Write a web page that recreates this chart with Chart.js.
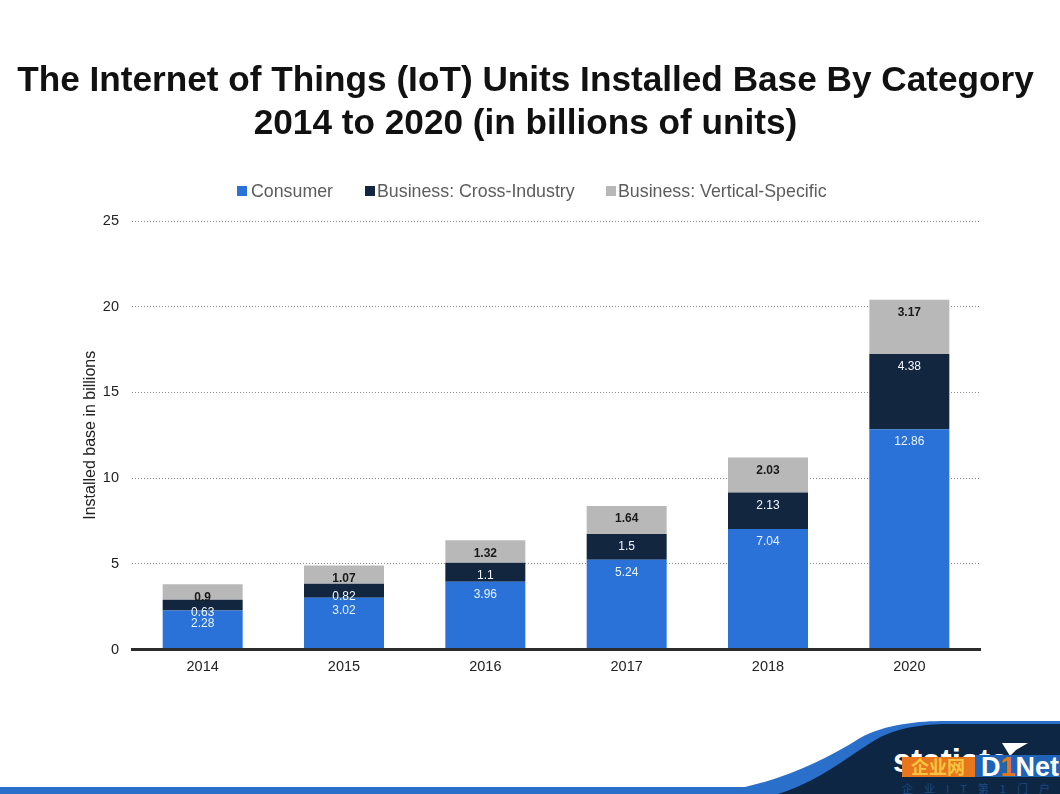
<!DOCTYPE html>
<html>
<head>
<meta charset="utf-8">
<title>IoT Units Installed Base</title>
<script src="https://cdn.jsdelivr.net/npm/chart.js@4/dist/chart.umd.min.js"></script>
<style>
    html, body { margin: 0; padding: 0; background: #fff; }
    #wrap { position: relative; width: 1060px; height: 794px; overflow: hidden; font-family: "Liberation Sans", sans-serif; }
    #corner, canvas { position: absolute; left: 0; top: 0; }
    #heading { position: absolute; left: 0; top: 57px; width: 1051px; margin: 0; text-align: center; font-size: 35.2px; line-height: 43px; font-weight: bold; color: #111; white-space: nowrap; }
    .key { position: absolute; top: 180px; font-size: 17.8px; line-height: 22px; color: #5c5c5c; white-space: nowrap; }
    .key i { position: absolute; top: 6px; width: 10px; height: 10px; }
</style>
</head>
<body>
<div id="wrap">
    <svg id="corner" width="1060" height="794" font-family="Liberation Sans">
        <rect x="0" y="787" width="810" height="7" fill="#2a6fc9"/>
        <path d="M745 794 L745 787 C 790 777, 830 757, 860 738 C 885 724, 920 721, 945 721 L1060 721 L1060 794 Z" fill="#2a6fc9"/>
        <path d="M778 794 C 825 780, 860 746, 885 735 C 905 726, 930 724, 950 724 L1060 724 L1060 794 Z" fill="#0d2644"/>
        <text x="893" y="772" font-size="33" font-weight="bold" fill="#fff">statista</text>
        <path d="M1002 743 L1028 743 L1016 750 L1010 756 Z" fill="#fff"/>
        <rect x="902" y="757" width="73" height="20" fill="#e8761c"/>
        <text x="938" y="774" font-size="18" font-weight="bold" fill="#f5c542" text-anchor="middle" font-family="Noto Sans CJK SC">企业网</text>
        <rect x="975" y="755" width="85" height="22" fill="#1f63b8"/>
        <text x="981" y="776" font-size="27" font-weight="bold" fill="#fff">D<tspan fill="#e8761c">1</tspan>Net</text>
        <text x="902" y="793" font-size="11" fill="#1c4a80" letter-spacing="11" font-family="Noto Sans CJK SC">企业IT第1门户</text>
    </svg>
    <canvas id="iotChart" width="1060" height="794"></canvas>
    <h1 id="heading">The Internet of Things (IoT) Units Installed Base By Category<br>2014 to 2020 (in billions of units)</h1>
    <div class="key" style="left:251px"><i style="left:-14px;background:#2a72d8"></i>Consumer</div>
    <div class="key" style="left:377px"><i style="left:-12px;background:#12263f"></i>Business: Cross-Industry</div>
    <div class="key" style="left:618px"><i style="left:-12px;background:#b8b8b8"></i>Business: Vertical-Specific</div>
</div>
<script>
const years = ['2014', '2015', '2016', '2017', '2018', '2020'];
const consumer = [2.28, 3.02, 3.96, 5.24, 7.04, 12.86];
const crossIndustry = [0.63, 0.82, 1.1, 1.5, 2.13, 4.38];
const verticalSpecific = [0.9, 1.07, 1.32, 1.64, 2.03, 3.17];
const yTicks = [0, 5, 10, 15, 20, 25];

// Draws the value labels just inside the top of each segment
const segmentLabels = {
    id: 'segmentLabels',
    afterDatasetsDraw(chart) {
        const ctx = chart.ctx;
        ctx.save();
        ctx.textAlign = 'center';
        ctx.textBaseline = 'middle';
        chart.data.datasets.forEach((ds, i) => {
            chart.getDatasetMeta(i).data.forEach((bar, j) => {
                ctx.fillStyle = ds.labelColor;
                ctx.font = ds.labelFont;
                ctx.fillText(String(ds.data[j]), bar.x, bar.y + 13);
            });
        });
        ctx.restore();
    }
};

new Chart(document.getElementById('iotChart'), {
    type: 'bar',
    data: {
        labels: years,
        datasets: [
            { label: 'Consumer', data: consumer, backgroundColor: '#2a72d8', labelColor: '#e8f2ff', labelFont: '12px "Liberation Sans"' },
            { label: 'Business: Cross-Industry', data: crossIndustry, backgroundColor: '#12263f', labelColor: '#f2f7ff', labelFont: '12px "Liberation Sans"' },
            { label: 'Business: Vertical-Specific', data: verticalSpecific, backgroundColor: '#b8b8b8', labelColor: '#1a1a1a', labelFont: 'bold 12px "Liberation Sans"' }
        ]
    },
    options: {
        responsive: false,
        animation: false,
        layout: { padding: { top: 221, right: 80, bottom: 117, left: 0 } },
        datasets: { bar: { categoryPercentage: 1, barPercentage: 0.566 } },
        plugins: {
            legend: { display: false },
            tooltip: { enabled: false }
        },
        scales: {
            x: {
                stacked: true,
                grid: { display: false },
                border: { display: true, color: '#2b2b2b', width: 3, z: 1 },
                ticks: { color: '#222', font: { family: 'Liberation Sans', size: 14.5 }, padding: 1 }
            },
            y: {
                stacked: true,
                min: 0,
                max: 25,
                afterFit(scale) { scale.width = 132; },
                afterBuildTicks(scale) { scale.ticks = yTicks.map(v => ({ value: v })); },
                grid: { color: '#8a8a8a', lineWidth: 1, drawTicks: false },
                border: { display: false, dash: [1, 2] },
                ticks: { color: '#222', font: { family: 'Liberation Sans', size: 14.5 }, padding: 13 },
                title: {
                    display: true,
                    text: 'Installed base in billions',
                    color: '#222',
                    font: { family: 'Liberation Sans', size: 16 },
                    padding: { top: 81, bottom: 0 }
                }
            }
        }
    },
    plugins: [segmentLabels]
});
</script>
</body>
</html>
